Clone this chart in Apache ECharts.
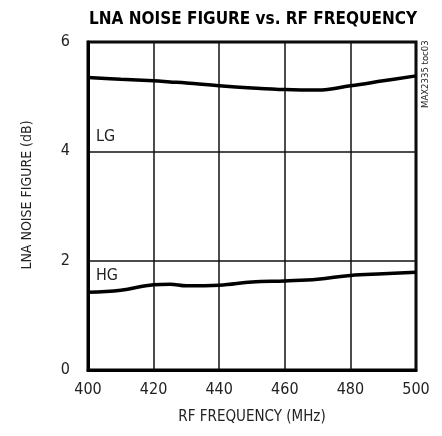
<!DOCTYPE html>
<html><head><meta charset="utf-8">
<script src="https://cdn.jsdelivr.net/npm/echarts@6/dist/echarts.min.js"></script>
<style>html,body{margin:0;padding:0;background:#fff}#c{width:442px;height:436px}</style>
</head><body><div id="c"></div>
<script>
const freq = [400, 410, 420, 425, 430, 440, 450, 460, 470, 480, 490, 500];
const lg = [5.35, 5.32, 5.29, 5.27, 5.25, 5.20, 5.16, 5.13, 5.12, 5.20, 5.29, 5.38];
const hg = [1.42, 1.46, 1.56, 1.57, 1.54, 1.55, 1.61, 1.63, 1.66, 1.73, 1.76, 1.79];
const xTicks = [400, 420, 440, 460, 480, 500];
const yTicks = [0, 2, 4, 6];

const FONT = '"Liberation Sans Narrow","DejaVu Sans Condensed","Liberation Sans",sans-serif';
const chart = echarts.init(document.getElementById('c'), null, {renderer: 'canvas'});
const pairs = (ys) => freq.map((f, i) => [f, ys[i]]);
chart.setOption({
  animation: false,
  title: {
    text: 'LNA NOISE FIGURE vs. RF FREQUENCY',
    left: 248, top: 6, textAlign: 'center',
    textStyle: {fontFamily: FONT, fontWeight: 'bold', fontSize: 17, color: '#000'}
  },
  grid: {left: 88, top: 42, width: 328, height: 328, show: true, borderColor: '#000', borderWidth: 3},
  xAxis: {
    type: 'value', min: 400, max: 500, interval: 20,
    name: 'RF FREQUENCY (MHz)', nameLocation: 'middle', nameGap: 40,
    nameTextStyle: {fontFamily: FONT, fontSize: 15, color: '#222'},
    axisLine: {show: true, lineStyle: {color: '#000', width: 3}},
    axisTick: {show: false},
    axisLabel: {fontFamily: FONT, fontSize: 16, color: '#222', margin: 12,
      formatter: v => xTicks.includes(v) ? String(v) : ''},
    splitLine: {show: true, lineStyle: {color: '#111', width: 1.5}}
  },
  yAxis: {
    type: 'value', min: 0, max: 6, interval: 2,
    name: 'LNA NOISE FIGURE (dB)', nameLocation: 'middle', nameGap: 54, nameRotate: 90,
    nameTextStyle: {fontFamily: FONT, fontSize: 14, color: '#222', padding: [0, 0, 0, 22]},
    axisLine: {show: true, lineStyle: {color: '#000', width: 3}},
    axisTick: {show: false},
    axisLabel: {fontFamily: FONT, fontSize: 16, color: '#222', margin: 18,
      formatter: v => yTicks.includes(v) ? String(v) : ''},
    splitLine: {show: true, lineStyle: {color: '#111', width: 1.5}}
  },
  series: [
    {name: 'LG', type: 'line', data: pairs(lg), smooth: 0.4, showSymbol: false,
     lineStyle: {color: '#000', width: 3.5}},
    {name: 'HG', type: 'line', data: pairs(hg), smooth: 0.4, showSymbol: false,
     lineStyle: {color: '#000', width: 3.5}}
  ],
  graphic: [
    {type: 'text', left: 96, top: 129, style: {text: 'LG', fontFamily: FONT, fontSize: 16, fill: '#222'}},
    {type: 'text', left: 96, top: 268, style: {text: 'HG', fontFamily: FONT, fontSize: 16, fill: '#222'}},
    {type: 'text', x: 421, y: 108, rotation: Math.PI / 2,
     style: {text: 'MAX2335 toc03', fontFamily: FONT, fontSize: 9.5, fill: '#222', verticalAlign: 'top', align: 'left'}}
  ]
});
</script></body></html>
